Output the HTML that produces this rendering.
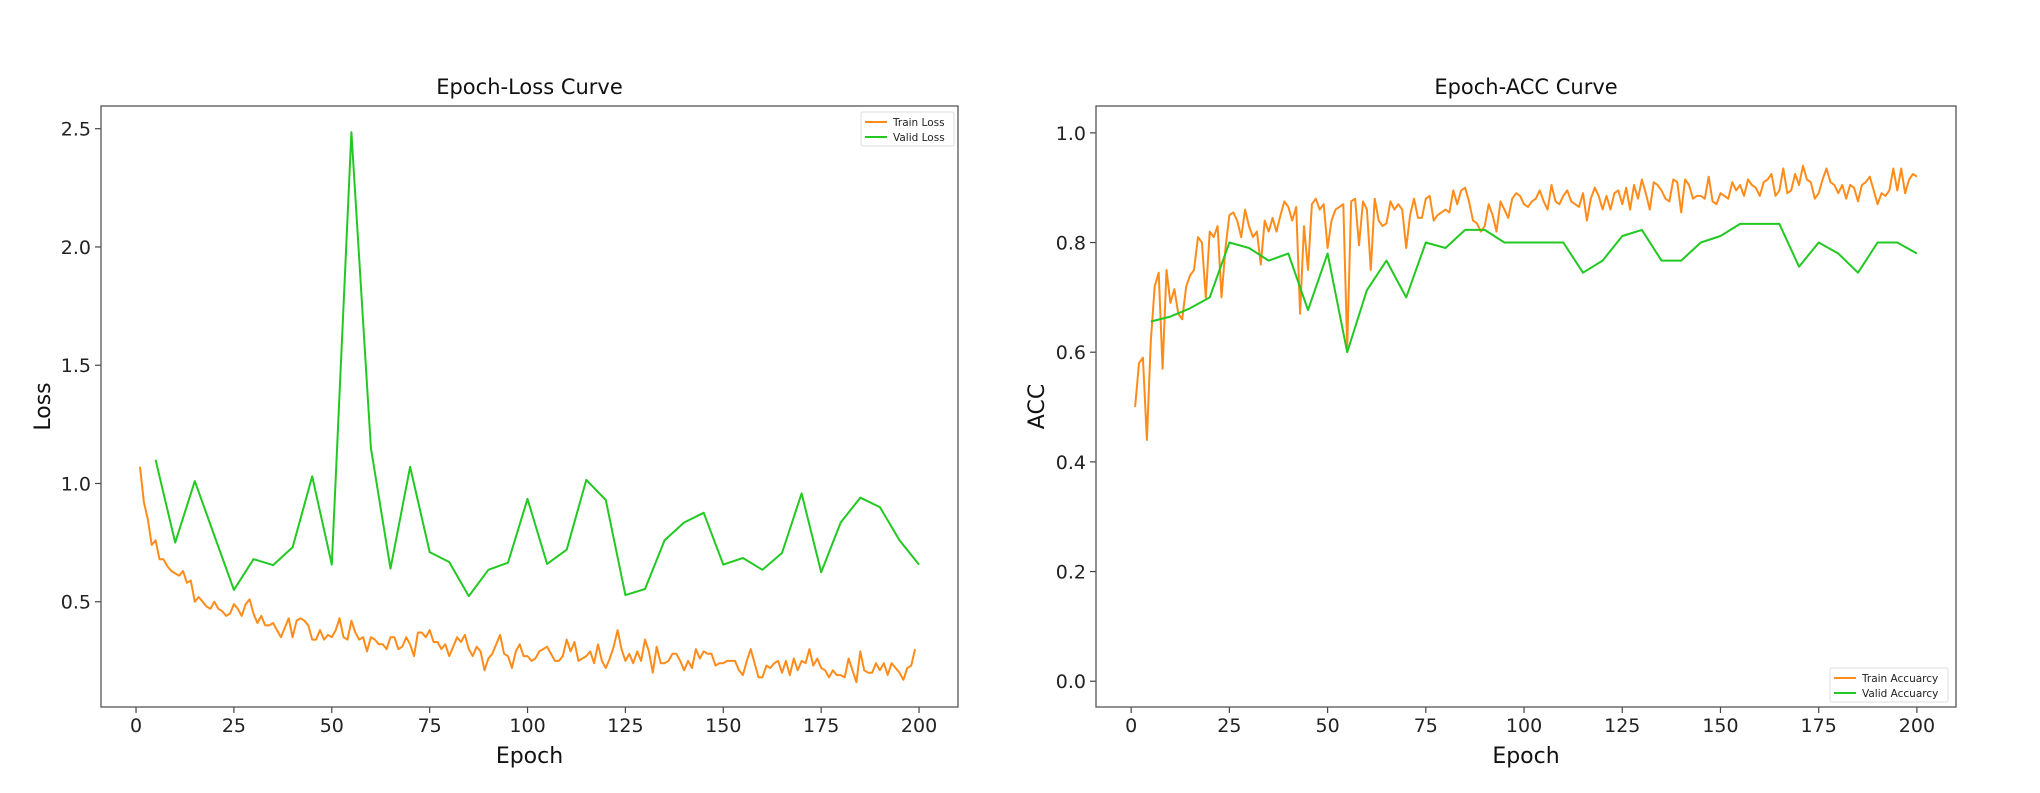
<!DOCTYPE html>
<html><head><meta charset="utf-8"><style>
html,body{margin:0;padding:0;background:#fff;}
svg{display:block;font-family:"DejaVu Sans","Liberation Sans",sans-serif;}
</style></head><body>
<svg id="chart" width="2040" height="793" viewBox="0 0 2040 793" xmlns="http://www.w3.org/2000/svg">
<rect x="0" y="0" width="2040" height="793" fill="#fff"/>
</svg>
<script>
const trainLoss=[1.07,0.92,0.85,0.74,0.76,0.68,0.68,0.65,0.63,0.62,0.61,0.63,0.58,0.59,0.50,0.52,0.50,0.48,0.47,0.50,0.47,0.46,0.44,0.45,0.49,0.47,0.44,0.49,0.51,0.45,0.41,0.44,0.40,0.40,0.41,0.38,0.35,0.39,0.43,0.35,0.42,0.43,0.42,0.40,0.34,0.34,0.38,0.34,0.36,0.35,0.38,0.43,0.35,0.34,0.42,0.37,0.34,0.35,0.29,0.35,0.34,0.32,0.32,0.30,0.35,0.35,0.30,0.31,0.35,0.32,0.27,0.37,0.37,0.35,0.38,0.33,0.33,0.30,0.32,0.27,0.31,0.35,0.33,0.36,0.30,0.27,0.31,0.29,0.21,0.26,0.28,0.32,0.36,0.28,0.27,0.22,0.29,0.32,0.27,0.27,0.25,0.26,0.29,0.30,0.31,0.28,0.25,0.25,0.27,0.34,0.29,0.33,0.25,0.26,0.27,0.29,0.24,0.32,0.25,0.22,0.26,0.31,0.38,0.30,0.25,0.28,0.24,0.29,0.25,0.34,0.29,0.20,0.31,0.24,0.24,0.25,0.28,0.28,0.25,0.21,0.25,0.22,0.30,0.26,0.29,0.28,0.28,0.23,0.24,0.24,0.25,0.25,0.25,0.21,0.19,0.25,0.30,0.24,0.18,0.18,0.23,0.22,0.24,0.25,0.20,0.25,0.19,0.26,0.21,0.25,0.24,0.30,0.23,0.26,0.22,0.21,0.18,0.21,0.19,0.19,0.18,0.26,0.21,0.16,0.29,0.21,0.20,0.20,0.24,0.21,0.24,0.19,0.24,0.22,0.20,0.17,0.22,0.23,0.30];
const validEpochs=[5,10,15,20,25,30,35,40,45,50,55,60,65,70,75,80,85,90,95,100,105,110,115,120,125,130,135,140,145,150,155,160,165,170,175,180,185,190,195,200];
const validLoss=[1.10,0.75,1.01,0.78,0.55,0.68,0.655,0.73,1.03,0.657,2.485,1.15,0.64,1.07,0.71,0.668,0.524,0.635,0.665,0.935,0.66,0.72,1.015,0.93,0.528,0.554,0.76,0.835,0.876,0.657,0.685,0.635,0.706,0.958,0.625,0.835,0.94,0.90,0.76,0.657];
const trainAcc=[0.5,0.58,0.59,0.44,0.62,0.72,0.745,0.57,0.75,0.69,0.715,0.67,0.66,0.72,0.74,0.75,0.81,0.80,0.70,0.82,0.81,0.83,0.70,0.79,0.85,0.855,0.84,0.81,0.86,0.83,0.81,0.82,0.76,0.84,0.82,0.845,0.82,0.85,0.875,0.865,0.84,0.865,0.67,0.83,0.75,0.87,0.88,0.86,0.87,0.79,0.84,0.86,0.865,0.87,0.61,0.875,0.88,0.795,0.875,0.86,0.75,0.88,0.84,0.83,0.835,0.875,0.86,0.87,0.86,0.79,0.85,0.88,0.845,0.845,0.88,0.885,0.84,0.85,0.855,0.86,0.855,0.895,0.87,0.895,0.90,0.875,0.84,0.835,0.82,0.83,0.87,0.85,0.82,0.875,0.86,0.845,0.88,0.89,0.885,0.87,0.865,0.875,0.88,0.895,0.875,0.86,0.905,0.875,0.87,0.885,0.895,0.875,0.87,0.865,0.89,0.84,0.88,0.90,0.885,0.86,0.885,0.86,0.89,0.895,0.87,0.90,0.86,0.905,0.88,0.915,0.89,0.86,0.91,0.905,0.895,0.88,0.875,0.915,0.91,0.855,0.915,0.905,0.88,0.885,0.885,0.88,0.92,0.875,0.87,0.89,0.885,0.88,0.91,0.895,0.905,0.885,0.915,0.905,0.90,0.885,0.91,0.915,0.925,0.885,0.895,0.935,0.89,0.895,0.925,0.905,0.94,0.915,0.91,0.88,0.89,0.915,0.935,0.91,0.905,0.89,0.905,0.88,0.905,0.9,0.875,0.905,0.91,0.92,0.895,0.87,0.89,0.885,0.895,0.935,0.895,0.935,0.89,0.915,0.925,0.92];
const validAcc=[0.656,0.665,0.68,0.70,0.80,0.79,0.767,0.78,0.677,0.78,0.60,0.713,0.767,0.70,0.80,0.79,0.823,0.823,0.80,0.80,0.80,0.80,0.745,0.767,0.812,0.823,0.767,0.767,0.80,0.812,0.834,0.834,0.834,0.756,0.80,0.78,0.745,0.80,0.80,0.78];
const xTicks=[0,25,50,75,100,125,150,175,200];
const lossTicks=[0.5,1.0,1.5,2.0,2.5];
const accTicks=[0.0,0.2,0.4,0.6,0.8,1.0];

const NS="http://www.w3.org/2000/svg";
const svg=document.getElementById('chart');
const ORANGE="#ff8c1a", GREEN="#22c922";
function mk(tag,attrs,parent){const e=document.createElementNS(NS,tag);for(const k in attrs)e.setAttribute(k,attrs[k]);(parent||svg).appendChild(e);return e;}

function panel(cfg){
  const g=mk('g',{});
  
  
  const {x0,x1,y0,y1}=cfg;
  const xs=v=>x0+(v-cfg.xmin)/(cfg.xmax-cfg.xmin)*(x1-x0);
  const ys=v=>y1-(v-cfg.ymin)/(cfg.ymax-cfg.ymin)*(y1-y0);
  // ticks
  xTicks.forEach(t=>{
    const tl=mk('line',{x1:xs(t),x2:xs(t),y1:y1,y2:y1+6,stroke:'#444','stroke-width':1.2},g);
    
    
    const tx=mk('text',{x:xs(t),y:y1+25,'text-anchor':'middle','font-size':19,fill:'#222'},g);
    
    
    tx.textContent=String(t);
  });
  cfg.yTicks.forEach(t=>{
    const tl=mk('line',{x1:x0-6,x2:x0,y1:ys(t),y2:ys(t),stroke:'#444','stroke-width':1.2},g);
    
    
    const tx=mk('text',{x:x0-10,y:ys(t)+7,'text-anchor':'end','font-size':19,fill:'#222'},g);
    
    
    tx.textContent=t.toFixed(1);
  });
  // series
  function series(xsArr,ysArr,color,name){
    const pts=ysArr.map((v,i)=>xs(xsArr[i]).toFixed(1)+','+ys(v).toFixed(1)).join(' ');
    const p=mk('polyline',{points:pts,fill:'none',stroke:color,'stroke-width':2,'stroke-linejoin':'round'},g);
    
    
  }
  const trainEp=cfg.train.map((_,i)=>i+1);
  series(trainEp,cfg.train,ORANGE,cfg.trainName);
  series(validEpochs,cfg.valid,GREEN,cfg.validName);
  const frame=mk('rect',{x:x0,y:y0,width:x1-x0,height:y1-y0,fill:'none',stroke:'#555','stroke-width':1.3},g);
  
  
  const title=mk('text',{x:(x0+x1)/2,y:94,'text-anchor':'middle','font-size':21,fill:'#111'},g);
  
  
  title.textContent=cfg.title;
  const xl=mk('text',{x:(x0+x1)/2,y:763,'text-anchor':'middle','font-size':22,fill:'#111'},g);
  
  
  xl.textContent='Epoch';
  const yl=mk('text',{x:0,y:0,'text-anchor':'middle','font-size':22,fill:'#111',transform:`translate(${cfg.ylx},${(y0+y1)/2}) rotate(-90)`},g);
  
  
  yl.textContent=cfg.ylabel;
  // legend
  const L=cfg.legend;
  const lg=mk('g',{},g);
  
  
  mk('rect',{x:L.x,y:L.y,width:L.w,height:34,fill:'#fff',stroke:'#ddd','stroke-width':1,rx:2},lg);
  [[ORANGE,L.a],[GREEN,L.b]].forEach((e,i)=>{
    const en=mk('g',{},lg);
    
    
    const yy=L.y+10+i*15;
    mk('line',{x1:L.x+4,x2:L.x+26,y1:yy,y2:yy,stroke:e[0],'stroke-width':2},en);
    const t=mk('text',{x:L.x+32,y:yy+4,'font-size':10.5,fill:'#222'},en);
    t.textContent=e[1];
  });
}

panel({name:'loss-chart',x0:101,x1:958,y0:106,y1:707,xmin:-8.95,xmax:209.95,ymin:0.055,ymax:2.596,
  yTicks:lossTicks,train:trainLoss,valid:validLoss,trainName:'train-loss-line',validName:'valid-loss-line',
  title:'Epoch-Loss Curve',ylabel:'Loss',ylx:50,legend:{x:861,y:112,w:93,a:'Train Loss',b:'Valid Loss'}});
panel({name:'acc-chart',x0:1096,x1:1956,y0:106,y1:707,xmin:-8.95,xmax:209.95,ymin:-0.047,ymax:1.049,
  yTicks:accTicks,train:trainAcc,valid:validAcc,trainName:'train-accuracy-line',validName:'valid-accuracy-line',
  title:'Epoch-ACC Curve',ylabel:'ACC',ylx:1044,legend:{x:1830,y:668,w:118,a:'Train Accuarcy',b:'Valid Accuarcy'}});
</script>
</body></html>
